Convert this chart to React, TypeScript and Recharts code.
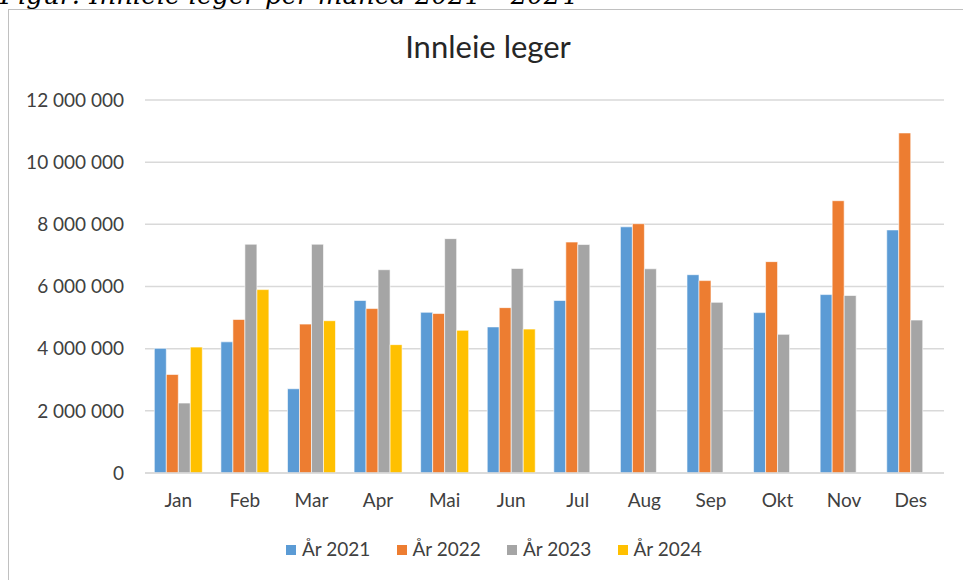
import { BarChart, Bar, XAxis, YAxis, CartesianGrid } from "recharts";

// Months and monthly cost of hired doctors (NOK)
const MONTHS = ["Jan", "Feb", "Mar", "Apr", "Mai", "Jun", "Jul", "Aug", "Sep", "Okt", "Nov", "Des"];
const Y2021 = [4010000, 4220000, 2710000, 5550000, 5170000, 4700000, 5550000, 7920000, 6380000, 5160000, 5740000, 7820000];
const Y2022 = [3170000, 4940000, 4790000, 5290000, 5130000, 5320000, 7430000, 8020000, 6190000, 6800000, 8760000, 10940000];
const Y2023 = [2250000, 7360000, 7360000, 6540000, 7540000, 6580000, 7350000, 6570000, 5490000, 4460000, 5710000, 4920000];
const Y2024 = [4050000, 5900000, 4900000, 4130000, 4590000, 4630000, null, null, null, null, null, null];
const Y_TICKS = [0, 2000000, 4000000, 6000000, 8000000, 10000000, 12000000];

const SERIES = [
  { key: "y2021", name: "År 2021", color: "#5B9BD5" },
  { key: "y2022", name: "År 2022", color: "#ED7D31" },
  { key: "y2023", name: "År 2023", color: "#A5A5A5" },
  { key: "y2024", name: "År 2024", color: "#FFC000" },
];

const FONT = "Lato, 'Open Sans', sans-serif";

// "12 000 000" style, space as thousands separator
function formatNok(v: number): string {
  return String(v).replace(/\B(?=(\d{3})+(?!\d))/g, " ");
}

export default function App() {
  const data = MONTHS.map((m, i) => ({
    month: m,
    y2021: Y2021[i],
    y2022: Y2022[i],
    y2023: Y2023[i],
    y2024: Y2024[i],
  }));

  return (
    <div style={{ position: "absolute", left: 0, top: 0, width: 963, height: 580, overflow: "hidden", background: "#fff" }}>
      {/* figure caption, cut off by the top edge in the source */}
      <div
        style={{
          position: "absolute",
          left: 0,
          top: -18,
          fontFamily: "'DejaVu Serif', serif",
          fontStyle: "italic",
          fontSize: 26,
          lineHeight: 1,
          color: "#000",
          whiteSpace: "nowrap",
        }}
      >
        Figur: Innleie leger per måned 2021 – 2024
      </div>

      {/* chart frame */}
      <div
        style={{
          position: "absolute",
          left: 8,
          top: 9,
          width: 970,
          height: 590,
          border: "1px solid #c0c0c0",
          boxSizing: "border-box",
        }}
      />

      <div
        style={{
          position: "absolute",
          left: 0,
          top: 27,
          width: 963,
          boxSizing: "border-box",
          textAlign: "center",
          paddingLeft: 13,
          fontFamily: FONT,
          fontSize: 31,
          color: "#262626",
        }}
      >
        Innleie leger
      </div>

      <div style={{ position: "absolute", left: 0, top: 0 }}>
        <BarChart
          width={963}
          height={580}
          data={data}
          margin={{ top: 100, right: 19, bottom: 77, left: 8 }}
          barCategoryGap="14%"
          barGap={0}
        >
          <CartesianGrid vertical={false} stroke="#d9d9d9" strokeWidth={1.5} />
          <XAxis
            dataKey="month"
            height={30}
            axisLine={{ stroke: "#d9d9d9", strokeWidth: 1.5 }}
            tickLine={false}
            tickSize={0}
            tickMargin={21}
            tick={{ fontSize: 19, fill: "#404040", fontFamily: FONT }}
          />
          <YAxis
            width={137}
            domain={[0, 12000000]}
            ticks={Y_TICKS}
            interval={0}
            axisLine={false}
            tickLine={false}
            tickSize={0}
            tickMargin={21}
            tickFormatter={formatNok}
            tick={{ fontSize: 19, fill: "#404040", fontFamily: FONT }}
          />
          {SERIES.map((s) => (
            <Bar
              key={s.key}
              dataKey={s.key}
              name={s.name}
              fill={s.color}
              stroke="#ffffff"
              strokeWidth={0.6}
              isAnimationActive={false}
            />
          ))}
        </BarChart>
      </div>

      {/* legend */}
      <div
        style={{
          position: "absolute",
          left: 286,
          top: 537,
          display: "flex",
          fontFamily: FONT,
          fontSize: 19,
          color: "#404040",
        }}
      >
        {SERIES.map((s) => (
          <div key={s.key} style={{ display: "flex", alignItems: "center", width: 110.5 }}>
            <span style={{ display: "inline-block", width: 10, height: 10, background: s.color, marginRight: 6, marginTop: 3 }} />
            {s.name}
          </div>
        ))}
      </div>
    </div>
  );
}
